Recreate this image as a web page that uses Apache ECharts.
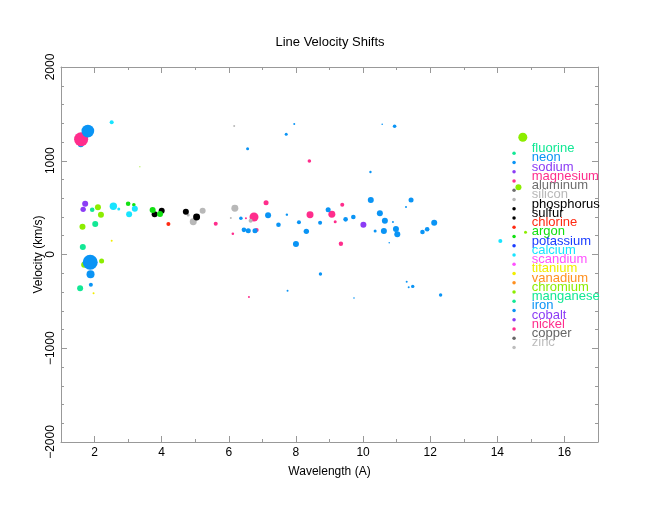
<!DOCTYPE html>
<html>
<head>
<meta charset="utf-8">
<script src="https://cdn.jsdelivr.net/npm/echarts@6/dist/echarts.min.js"></script>
<style>html,body{margin:0;padding:0;background:#fff}#c{width:660px;height:510px}</style>
</head>
<body>
<div id="c"></div>
<script>
// ---- data ----
const elements = ['fluorine','neon','sodium','magnesium','aluminum','silicon','phosphorus','sulfur','chlorine','argon','potassium','calcium','scandium','titanium','vanadium','chromium','manganese','iron','cobalt','nickel','copper','zinc'];
const elementColors = ['#12e895','#0a94f5','#8c3cf5','#ff2d8c','#6e6e6e','#b8b8b8','#000000','#000000','#ff2a12','#12e012','#1a3cff','#18e4ff','#ff50ff','#f2ee00','#ff9020','#8ced00','#12e895','#0a94f5','#8c3cf5','#ff2d8c','#666666','#bdbdbd'];
const xTickLabels = [2,4,6,8,10,12,14,16];
const xMinorTicks = [3,5,7,9,11,13,15];
const yTickLabels = [-2000,-1000,0,1000,2000];

// each point: [wavelength (A), velocity (km/s), relative line flux]
const fluorine = [];
const neon = [[12.12,338,4],[1.59,1175,4]];
const sodium = [[10.01,317,4]];
const magnesium = [[8.40,997,1.44],[8.42,425,5.4],[9.07,429,5.4],[9.38,531,1.8],[9.17,350,1.0],[9.34,115,2.15],[7.11,553,2.8],[6.75,400,9],[6.83,261,1.8],[5.61,329,1.8],[6.51,386,0.44],[6.12,222,0.75],[6.60,-453,0.44]];
const aluminum = [];
const silicon = [[4.79,421,1.0],[4.94,350,5.4],[5.22,467,4],[6.18,493,5.4],[6.65,360,1.8],[6.06,389,0.44],[6.16,1371,0.44]];
const phosphorus = [];
const sulfur = [[4.00,467,4],[3.79,429,4],[4.72,456,4],[5.04,400,5.4]];
const chlorine = [[4.20,325,1.8]];
const argon = [[3.00,541,2.35],[3.17,531,1.44],[3.73,475,4],[3.95,432,4]];
const potassium = [];
const calcium = [[2.51,1410,1.8],[2.56,514,6.1],[2.72,485,1.0],[3.20,489,4],[3.03,429,4],[14.09,144,1.8]];
const scandium = [];
const titanium = [[2.51,147,0.44],[1.97,-414,0.44]];
const vanadium = [];
const chromium = [[2.10,503,4],[2.19,424,4],[1.64,297,4],[1.69,-109,4],[2.21,-69,2.8],[3.35,936,0.16],[14.76,1251,9],[14.63,718,4],[14.84,237,1.0]];
const manganese = [[1.93,478,2.35],[2.02,325,4],[1.65,80,4],[1.57,-361,4]];
const iron = [[1.80,1317,18],[1.87,-83,25],[1.88,-211,7.1],[1.89,-322,1.8],
  [6.36,386,1.44],[6.45,263,2.35],[6.58,254,2.8],[6.78,254,2.8],[7.17,418,4],[7.73,425,0.64],[7.48,318,2.35],[8.00,112,4],
  [8.09,343,1.8],[8.31,247,3.2],[8.72,339,1.8],[8.96,478,2.8],[8.73,-208,1.28],[7.75,-386,0.44],[9.48,375,2.35],[9.71,400,2.35],
  [10.23,581,4],[10.50,440,4],[10.65,360,4],[10.36,250,1.0],[10.62,250,4],[10.98,272,4],[11.02,215,4],[10.89,347,0.44],
  [11.28,507,0.44],[11.43,581,2.8],[10.78,126,0.28],[11.91,270,2.35],[11.77,240,2.35],[11.30,-290,0.44],[11.36,-350,0.44],
  [11.48,-340,1.28],[12.31,-432,1.28],[9.73,-464,0.28],[7.71,1282,1.0],[6.56,1129,1.0],[10.22,880,0.64],[10.57,1389,0.28],
  [10.94,1368,1.44],[7.95,1392,0.44]];
const cobalt = [[1.72,542,4],[1.66,482,3.2]];
const nickel = [[1.60,1229,22]];
const copper = [];
const zinc = [];

const dataByElement = {fluorine,neon,sodium,magnesium,aluminum,silicon,phosphorus,sulfur,chlorine,argon,potassium,calcium,scandium,titanium,vanadium,chromium,manganese,iron,cobalt,nickel,copper,zinc};

// ---- chart ----
const FONT = '"Liberation Sans", Arial, Helvetica, sans-serif';
const AXIS_COLOR = '#999999';
const chart = echarts.init(document.getElementById('c'), null, {renderer: 'canvas'});

const minus = v => String(v).replace('-', '\u2212');

function xAx(position, values, len, main) {
  return {
    type: 'value', min: 1, max: 17, position: position, gridIndex: 0,
    axisLine: {show: main, onZero: false, lineStyle: {color: AXIS_COLOR, width: 1}},
    axisTick: {show: true, inside: true, length: len, customValues: values, lineStyle: {color: AXIS_COLOR}},
    axisLabel: (main && position === 'bottom') ? {show: true, customValues: xTickLabels, color: '#000', fontSize: 12, margin: 5, fontFamily: FONT} : {show: false},
    splitLine: {show: false},
    name: (main && position === 'bottom') ? 'Wavelength (A)' : '',
    nameLocation: 'middle', nameGap: 24, nameMoveOverlap: false,
    nameTextStyle: {color: '#000', fontSize: 12, fontFamily: FONT}
  };
}
function yAx(position, main) {
  return {
    type: 'value', min: -2000, max: 2000, interval: 1000, position: position, gridIndex: 0,
    axisLine: {show: true, onZero: false, lineStyle: {color: AXIS_COLOR, width: 1}},
    axisTick: {show: true, inside: true, length: 6, lineStyle: {color: AXIS_COLOR}},
    minorTick: {show: true, splitNumber: 5, length: 3, lineStyle: {color: AXIS_COLOR}},
    axisLabel: main ? {show: true, rotate: 90, color: '#000', fontSize: 12, margin: 4, fontFamily: FONT, formatter: minus} : {show: false},
    splitLine: {show: false},
    name: main ? 'Velocity (km/s)' : '',
    nameLocation: 'middle', nameGap: 16, nameMoveOverlap: false,
    nameTextStyle: {color: '#000', fontSize: 12, fontFamily: FONT}
  };
}

const option = {
  animation: false,
  backgroundColor: '#ffffff',
  textStyle: {fontFamily: FONT},
  title: {
    text: 'Line Velocity Shifts', left: 'center', top: 31,
    textStyle: {fontSize: 13, fontWeight: 'normal', color: '#000', fontFamily: FONT}
  },
  grid: {left: 61, right: 62, top: 67, bottom: 68, containLabel: false},
  xAxis: [
    xAx('bottom', xTickLabels, 6, true),
    xAx('bottom', xMinorTicks, 3, false),
    xAx('top', xTickLabels, 6, true),
    xAx('top', xMinorTicks, 3, false)
  ],
  yAxis: [yAx('left', true), yAx('right', false)],
  legend: {
    orient: 'vertical', left: 512.3, top: 142.1, padding: 0,
    itemWidth: 25.4, itemHeight: 3.5, itemGap: -13.05,
    icon: 'circle', selectedMode: false,
    formatter: name => name + '\n',
    textStyle: {fontSize: 13, lineHeight: 9.3, fontFamily: FONT},
    data: elements.map((name, i) => ({name: name, textStyle: {color: elementColors[i]}}))
  },
  series: elements.map((name, i) => ({
    name: name, type: 'scatter', xAxisIndex: 0, yAxisIndex: 0,
    data: dataByElement[name],
    symbol: 'circle',
    symbolSize: d => 3 * Math.sqrt(d[2]),
    itemStyle: {color: elementColors[i], opacity: 1},
    emphasis: {disabled: true},
    z: name === 'iron' ? 3 : 2
  }))
};
chart.setOption(option);
</script>
</body>
</html>
